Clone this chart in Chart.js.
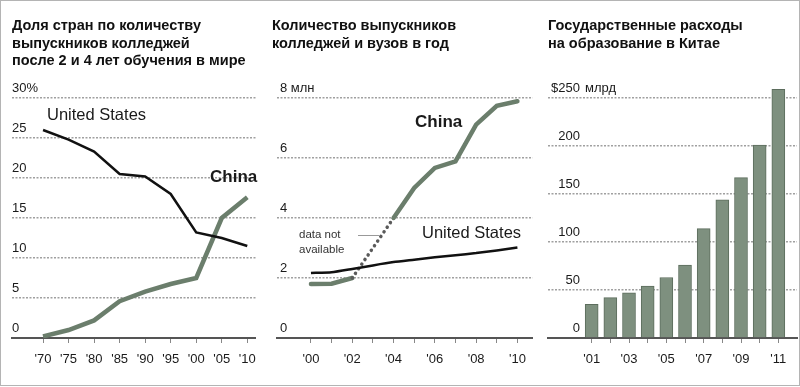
<!DOCTYPE html>
<html><head><meta charset="utf-8">
<script src="https://cdn.jsdelivr.net/npm/chart.js@4.4.1/dist/chart.umd.min.js"></script>
<style>
html,body{margin:0;padding:0;background:#fff;}
#frame{position:relative;width:800px;height:386px;box-sizing:border-box;border:1px solid #b4b4b4;overflow:hidden;background:#fff}
canvas{position:absolute;top:-1px}
</style></head><body>
<div id="frame">
<canvas id="c1" width="265" height="387" style="left:-1px"></canvas>
<canvas id="c2" width="270" height="387" style="left:264px"></canvas>
<canvas id="c3" width="265" height="387" style="left:534px"></canvas>
</div>
<script>
// ---------- data ----------
const title1 = ["Доля стран по количеству", "выпускников колледжей", "после 2 и 4 лет обучения в мире"];
const years1 = [1970, 1975, 1980, 1985, 1990, 1995, 2000, 2005, 2010];
const us1    = [26.0, 24.8, 23.3, 20.5, 20.2, 18.0, 13.2, 12.5, 11.5];
const china1 = [0.2, 1.0, 2.2, 4.6, 5.8, 6.75, 7.5, 15.0, 17.6];
const yTicks1 = [0, 5, 10, 15, 20, 25, 30];

const title2 = ["Количество выпускников", "колледжей и вузов в год"];
const years2 = [2000, 2001, 2002, 2003, 2004, 2005, 2006, 2007, 2008, 2009, 2010];
const us2    = [2.17, 2.19, 2.3, 2.42, 2.53, 2.61, 2.69, 2.76, 2.83, 2.92, 3.02];
const china2 = [1.8, 1.81, 2.0, null, 4.0, 5.0, 5.67, 5.89, 7.11, 7.74, 7.89];
const yTicks2 = [0, 2, 4, 6, 8];

const title3 = ["Государственные расходы", "на образование в Китае"];
const years3 = [2001, 2002, 2003, 2004, 2005, 2006, 2007, 2008, 2009, 2010, 2011];
const spend3 = [35, 42, 47, 54, 63, 76, 114, 144, 167, 201, 259];
const yTicks3 = [0, 50, 100, 150, 200, 250];

// ---------- styling ----------
const FONT = "'Liberation Sans', Arial, Helvetica, sans-serif";
const GREEN = '#6b7e6c';
const GRID = '#a0a0a0';
const TXT = '#1a1a1a';
const TTOP = 17.5, TLH = 14.5 * 1.2;
Chart.defaults.font.family = FONT;
Chart.defaults.animation = false;

const pts = (xs, ys) => xs.map((x, i) => ({x: x, y: ys[i]}));
const yrLabel = v => "'" + String(v).slice(2);

function yScale(ticks, max, fmt, axisWidth, tickExtra, z) {
  return {
    min: 0, max: max, z: z || 0,
    afterFit: s => { s.width = axisWidth; },
    afterBuildTicks: s => { s.ticks = ticks.map(v => ({value: v})); },
    ticks: Object.assign({mirror: true, padding: 0, labelOffset: -10, color: TXT, font: {size: 13}, callback: fmt}, tickExtra || {}),
    grid: {drawTicks: false, lineWidth: 1.5,
      color: c => (c.tick && c.tick.value === 0) ? 'rgba(0,0,0,0)' : GRID},
    border: {display: false, dash: [2, 1.5]}
  };
}
function xScale(years, min, max, fmt) {
  return {
    type: 'linear', min: min, max: max, offset: false, z: 1,
    afterFit: s => { s.height = 49; },
    afterBuildTicks: s => { s.ticks = years.map(v => ({value: v})); },
    ticks: {autoSkip: false, maxRotation: 0, minRotation: 0, padding: 9, color: TXT, font: {size: 13}, callback: fmt},
    grid: {drawOnChartArea: false, drawTicks: true, tickLength: 5, color: '#888', lineWidth: 1, offset: false},
    border: {display: true, color: '#555', width: 2}
  };
}
function titleOpt(text) {
  return {display: true, text: text, align: 'start', color: '#111',
    font: {size: 14.5, weight: 'bold', lineHeight: 1.2},
    padding: {top: TTOP, bottom: 98 - TTOP - text.length * TLH}};
}
function labelsPlugin(items) {
  return {
    id: 'lbl',
    afterDraw(chart) {
      const ctx = chart.ctx;
      ctx.save();
      items(chart, ctx);
      ctx.restore();
    }
  };
}
function txt(ctx, s, x, y, font, color) {
  ctx.font = font; ctx.fillStyle = color || TXT;
  ctx.textAlign = 'left'; ctx.textBaseline = 'middle';
  ctx.fillText(s, x, y);
}
const gap = c => !!(c.p0.skip || c.p1.skip);

// ---------- chart 1 ----------
new Chart(document.getElementById('c1'), {
  type: 'line',
  data: {datasets: [
    {label: 'United States', data: pts(years1, us1), borderColor: '#111', borderWidth: 2.5, pointRadius: 0, tension: 0},
    {label: 'China', data: pts(years1, china1), borderColor: GREEN, borderWidth: 4.5, pointRadius: 0, tension: 0}
  ]},
  options: {
    responsive: false, devicePixelRatio: 1,
    layout: {autoPadding: false, padding: {left: 12, right: 7, top: 0, bottom: 0}},
    plugins: {legend: {display: false}, tooltip: {enabled: false}, title: titleOpt(title1)},
    scales: {
      x: xScale(years1, 1963.92, 2011.69, yrLabel),
      y: yScale(yTicks1, 30, v => v === 30 ? '30%' : String(v), 0)
    }
  },
  plugins: [labelsPlugin((chart, ctx) => {
    txt(ctx, 'United States', 47, 115, '16.5px ' + FONT);
    txt(ctx, 'China', 210, 177, 'bold 17px ' + FONT);
  })]
});

// ---------- chart 2 ----------
new Chart(document.getElementById('c2'), {
  type: 'line',
  data: {datasets: [
    {label: 'United States', data: pts(years2, us2), borderColor: '#111', borderWidth: 2.5, pointRadius: 0, tension: 0.2},
    {label: 'China', data: pts(years2, china2), borderColor: GREEN, borderWidth: 4.5, pointRadius: 0, tension: 0,
      spanGaps: true, borderCapStyle: 'round',
      segment: {
        borderDash: c => gap(c) ? [0.1, 5.5] : undefined,
        borderColor: c => gap(c) ? '#5a5a5a' : undefined,
        borderWidth: c => gap(c) ? 3.5 : undefined
      }}
  ]},
  options: {
    responsive: false, devicePixelRatio: 1,
    layout: {autoPadding: false, padding: {left: 7, right: 2, top: 0, bottom: 0}},
    plugins: {legend: {display: false}, tooltip: {enabled: false}, title: titleOpt(title2)},
    scales: {
      x: xScale(years2, 1998.355, 2010.74, v => (v % 2 === 0) ? yrLabel(v) : ''),
      y: yScale(yTicks2, 8, v => v === 8 ? '8 млн' : String(v), 5, {padding: 3})
    }
  },
  plugins: [labelsPlugin((chart, ctx) => {
    txt(ctx, 'China', 150, 122, 'bold 17px ' + FONT);
    txt(ctx, 'United States', 157, 233, '16.5px ' + FONT);
    txt(ctx, 'data not', 34, 235, '11.5px ' + FONT, '#333');
    txt(ctx, 'available', 34, 250, '11.5px ' + FONT, '#333');
    ctx.strokeStyle = '#999'; ctx.lineWidth = 1;
    ctx.beginPath(); ctx.moveTo(93, 235.5); ctx.lineTo(114, 235.5); ctx.stroke();
  })]
});

// ---------- chart 3 ----------
new Chart(document.getElementById('c3'), {
  type: 'bar',
  data: {datasets: [
    {label: 'Spending', data: pts(years3, spend3), backgroundColor: '#7e907f', borderColor: '#5c6d5d',
      borderWidth: 1, barThickness: 13, clip: false}
  ]},
  options: {
    responsive: false, devicePixelRatio: 1,
    layout: {autoPadding: false, padding: {left: 13, right: 3, top: 0, bottom: 0}},
    plugins: {legend: {display: false}, tooltip: {enabled: false}, title: titleOpt(title3)},
    scales: {
      x: xScale(years3, 1998.66, 2012.0, v => (v % 2 === 1) ? yrLabel(v) : ''),
      y: yScale(yTicks3, 250, v => v === 250 ? '$250' : String(v), 0, {crossAlign: 'far', padding: 3}, 1)
    }
  },
  plugins: [labelsPlugin((chart, ctx) => {
    const y = chart.scales.y.getPixelForValue(250) - 10;
    txt(ctx, 'млрд', 50, y, '13px ' + FONT);
  })]
});
</script>
</body></html>
